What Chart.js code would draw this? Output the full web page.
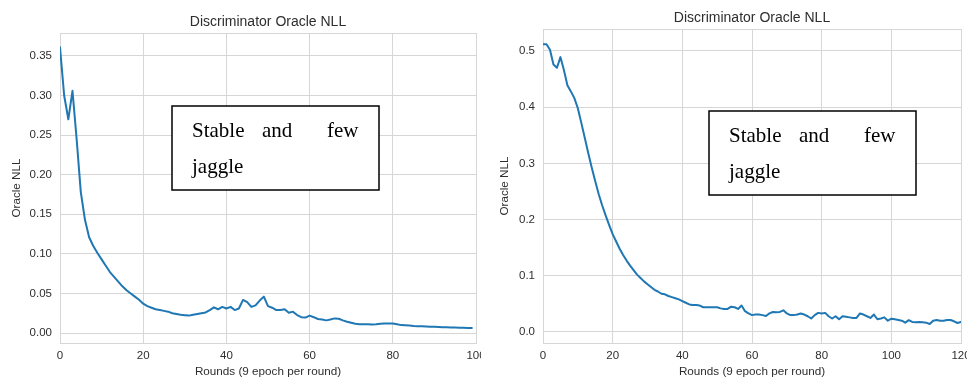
<!DOCTYPE html>
<html>
<head>
<meta charset="utf-8">
<script src="https://cdn.jsdelivr.net/npm/chart.js@4"></script>
<style>
  body { margin: 0; background: #fff; width: 967px; height: 378px; overflow: hidden; position: relative; }
  canvas { position: absolute; top: 0; }
  #left-chart { left: 0; }
  #right-chart { left: 487px; }
</style>
</head>
<body>
<canvas id="left-chart" width="481" height="378"></canvas>
<canvas id="right-chart" width="480" height="378"></canvas>
<script>
// --- Dados ---
const leftRounds = Array.from({ length: 100 }, (_, i) => i);
const leftNll = [
  0.361, 0.300, 0.270, 0.306, 0.245, 0.178, 0.143, 0.121, 0.110, 0.101,
  0.093, 0.085, 0.077, 0.071, 0.065, 0.059, 0.054, 0.050, 0.046, 0.042,
  0.037, 0.034, 0.032, 0.030, 0.029, 0.028, 0.027, 0.025, 0.024, 0.023,
  0.0225, 0.022, 0.023, 0.024, 0.025, 0.026, 0.029, 0.0325, 0.030, 0.033,
  0.031, 0.033, 0.029, 0.031, 0.0418, 0.039, 0.033, 0.035, 0.041, 0.046,
  0.034, 0.032, 0.029, 0.029, 0.030, 0.0257, 0.027, 0.0227, 0.020, 0.0195,
  0.022, 0.020, 0.0177, 0.017, 0.016, 0.017, 0.0185, 0.018, 0.016, 0.0143,
  0.013, 0.0118, 0.011, 0.011, 0.011, 0.0108, 0.011, 0.0116, 0.012, 0.012,
  0.012, 0.011, 0.010, 0.0097, 0.0095, 0.009, 0.0087, 0.0085, 0.0083, 0.008,
  0.0078, 0.0076, 0.0074, 0.0072, 0.0071, 0.007, 0.0068, 0.0066, 0.0065, 0.0063
];

const rightRounds = Array.from({ length: 121 }, (_, i) => i);
const rightNll = [
  0.512, 0.512, 0.502, 0.476, 0.470, 0.489, 0.466, 0.439, 0.428, 0.416,
  0.398, 0.372, 0.345, 0.318, 0.292, 0.268, 0.245, 0.225, 0.207, 0.190,
  0.174, 0.161, 0.148, 0.137, 0.127, 0.118, 0.110, 0.102, 0.096, 0.090,
  0.085, 0.080, 0.075, 0.072, 0.068, 0.067, 0.064, 0.062, 0.060, 0.058,
  0.055, 0.052, 0.049, 0.048, 0.048, 0.047, 0.044, 0.044, 0.044, 0.044,
  0.044, 0.042, 0.041, 0.041, 0.045, 0.044, 0.041, 0.047, 0.037, 0.033,
  0.030, 0.031, 0.031, 0.030, 0.0285, 0.033, 0.0356, 0.035, 0.0356, 0.0386,
  0.033, 0.030, 0.030, 0.031, 0.033, 0.031, 0.028, 0.024, 0.030, 0.034,
  0.033, 0.034, 0.028, 0.024, 0.028, 0.0226, 0.028, 0.027, 0.026, 0.025,
  0.025, 0.033, 0.031, 0.028, 0.025, 0.031, 0.0226, 0.024, 0.026, 0.020,
  0.0237, 0.0226, 0.0214, 0.020, 0.0166, 0.021, 0.0178, 0.0172, 0.0178, 0.0172,
  0.0166, 0.0142, 0.020, 0.0214, 0.020, 0.020, 0.0214, 0.0214, 0.019, 0.016,
  0.018
];

const leftXTicks = [0, 20, 40, 60, 80, 100];
const leftYTicks = [0, 0.05, 0.10, 0.15, 0.20, 0.25, 0.30, 0.35];
const rightXTicks = [0, 20, 40, 60, 80, 100, 120];
const rightYTicks = [0, 0.1, 0.2, 0.3, 0.4, 0.5];

const chartTitle = 'Discriminator Oracle NLL';
const xLabel = 'Rounds (9 epoch per round)';
const yLabel = 'Oracle NLL';
const noteWords = ['Stable', 'and', 'few'];
const noteLine2 = 'jaggle';

// --- Estilo ---
const SANS = '"Liberation Sans", Arial, sans-serif';
const TEXT_COLOR = '#2e2e2e';
const GRID_COLOR = '#d6d6d6';
const LINE_COLOR = '#1f77b4';

// moldura cinza em volta da área do gráfico (spines do seaborn)
const framePlugin = {
  id: 'frame',
  beforeDatasetsDraw(chart) {
    const { ctx, chartArea: a } = chart;
    ctx.save();
    ctx.strokeStyle = GRID_COLOR;
    ctx.lineWidth = 1;
    ctx.strokeRect(a.left + 0.5, a.top + 0.5, a.right - a.left, a.bottom - a.top);
    ctx.restore();
  }
};

// caixa de texto "Stable and few jaggle"
const notePlugin = {
  id: 'note',
  afterDraw(chart, args, opts) {
    const { ctx } = chart;
    ctx.save();
    ctx.fillStyle = '#ffffff';
    ctx.fillRect(opts.x, opts.y, opts.w, opts.h);
    ctx.strokeStyle = '#000000';
    ctx.lineWidth = 1.5;
    ctx.strokeRect(opts.x, opts.y, opts.w, opts.h);
    ctx.fillStyle = '#000000';
    ctx.font = '21px "Liberation Serif", "Times New Roman", serif';
    ctx.textBaseline = 'alphabetic';
    const offsets = [20, 90, 155];
    noteWords.forEach((w, i) => ctx.fillText(w, opts.x + offsets[i], opts.y + 31));
    ctx.fillText(noteLine2, opts.x + 20, opts.y + 67);
    ctx.restore();
  }
};

function makeChart(canvasId, rounds, values, xTicks, yTicks, cfg) {
  const ctx = document.getElementById(canvasId).getContext('2d');
  return new Chart(ctx, {
    type: 'line',
    data: {
      datasets: [{
        data: rounds.map((r, i) => ({ x: r, y: values[i] })),
        borderColor: LINE_COLOR,
        borderWidth: 2,
        pointRadius: 0,
        tension: 0,
        borderJoinStyle: 'round',
        borderCapStyle: 'round'
      }]
    },
    options: {
      responsive: false,
      animation: false,
      layout: { padding: { top: 0, left: 0, bottom: 0, right: cfg.padRight } },
      scales: {
        x: {
          type: 'linear',
          min: xTicks[0],
          max: xTicks[xTicks.length - 1],
          afterBuildTicks: (s) => { s.ticks = xTicks.map(v => ({ value: v })); },
          afterFit: (s) => { s.height = 35; s.paddingLeft = 0; s.paddingRight = 0; },
          ticks: { color: TEXT_COLOR, font: { family: SANS, size: 11.5 }, padding: 6, maxRotation: 0, callback: v => String(v) },
          grid: { color: GRID_COLOR, lineWidth: 1, drawTicks: false },
          border: { display: false },
          title: { display: true, text: xLabel, color: TEXT_COLOR, font: { family: SANS, size: 11.7, lineHeight: 1 }, padding: { top: 0, bottom: 0 } }
        },
        y: {
          min: cfg.yMin,
          max: cfg.yMax,
          afterBuildTicks: (s) => { s.ticks = yTicks.map(v => ({ value: v })); },
          afterFit: (s) => { s.width = cfg.yWidth; s.paddingTop = 0; s.paddingBottom = 0; },
          ticks: { color: TEXT_COLOR, font: { family: SANS, size: 11.5 }, padding: 8, callback: v => v.toFixed(cfg.decimals) },
          grid: { color: GRID_COLOR, lineWidth: 1, drawTicks: false },
          border: { display: false },
          title: { display: true, text: yLabel, color: TEXT_COLOR, font: { family: SANS, size: 11.7, lineHeight: 1.2 }, padding: { top: cfg.yTitlePad, bottom: 0 } }
        }
      },
      plugins: {
        legend: { display: false },
        tooltip: { enabled: false },
        title: {
          display: true,
          text: chartTitle,
          fullSize: false,
          color: TEXT_COLOR,
          font: { family: SANS, size: 14, weight: 'normal', lineHeight: 1.2 },
          padding: cfg.titlePad
        },
        note: cfg.note
      }
    },
    plugins: [framePlugin, notePlugin]
  });
}

// --- Inicialização ---
makeChart('left-chart', leftRounds, leftNll, leftXTicks, leftYTicks, {
  padRight: 5, yWidth: 60, yMin: -0.0126, yMax: 0.379, decimals: 2, yTitlePad: 10,
  titlePad: { top: 14, bottom: 2.2 },
  note: { x: 172, y: 106, w: 207, h: 84 }
});
makeChart('right-chart', rightRounds, rightNll, rightXTicks, rightYTicks, {
  padRight: 6, yWidth: 56, yMin: -0.0196, yMax: 0.539, decimals: 1, yTitlePad: 11,
  titlePad: { top: 10, bottom: 2.2 },
  note: { x: 222, y: 111, w: 207, h: 84 }
});
</script>
</body>
</html>
